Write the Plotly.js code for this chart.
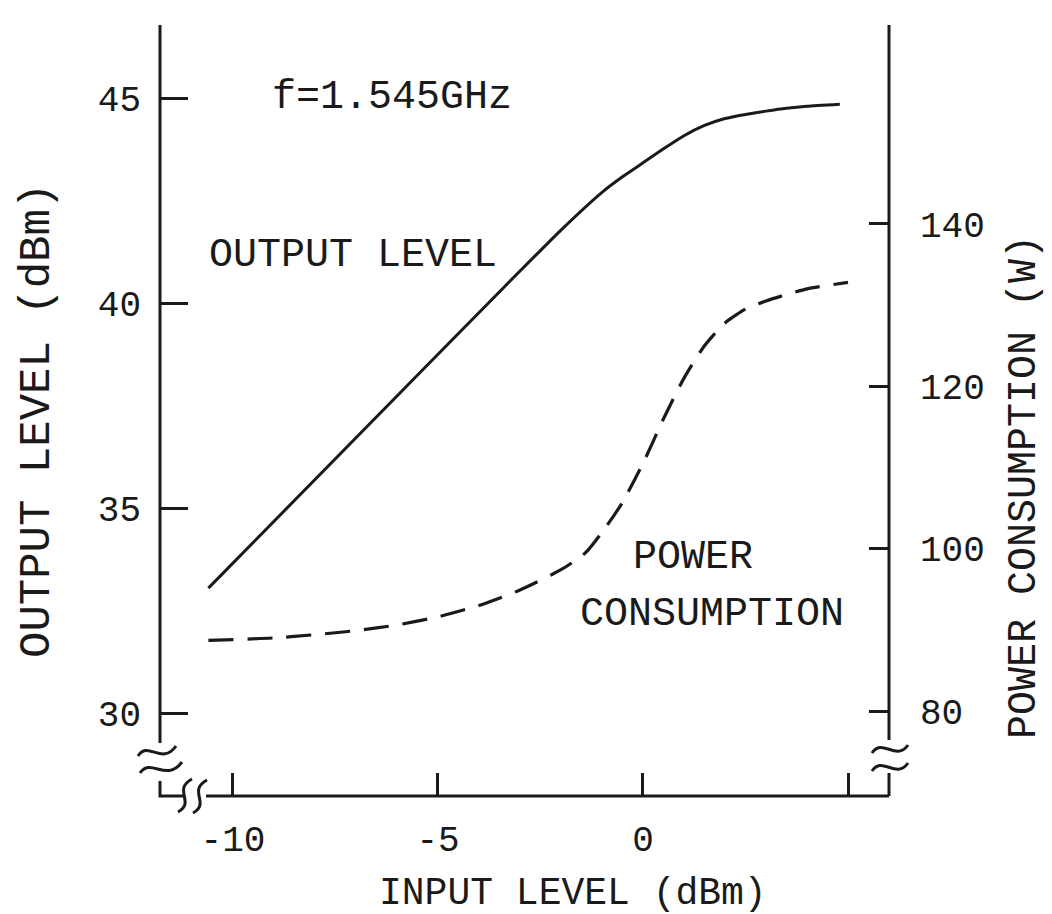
<!DOCTYPE html>
<html>
<head>
<meta charset="utf-8">
<script src="https://cdn.plot.ly/plotly-3.0.1.min.js"></script>
<style>html,body{margin:0;padding:0;background:#fff;}#chart{width:1052px;height:914px;}</style>
</head>
<body>
<div id="chart"></div>
<script>
// Data
var inputLevel = [-10.6, -5, -3, -2, -1, -0.5, 0, 0.5, 1, 1.5, 2, 2.5, 3, 3.5, 4, 4.8];
var outputLevel = [33.05, 38.75, 40.78, 41.78, 42.7, 43.08, 43.42, 43.76, 44.08, 44.33, 44.5, 44.6, 44.68, 44.75, 44.8, 44.85];

var inputLevelP = [-10.6, -9, -8, -7, -6, -5, -4, -3, -2, -1.4, -0.9, -0.5, 0, 0.5, 1, 1.5, 2, 2.5, 3, 3.5, 4, 5.0];
var powerConsumption = [88.7, 89.0, 89.4, 89.9, 90.6, 91.6, 93.0, 94.9, 97.4, 99.5, 102.7, 105.7, 110.5, 116, 121, 125, 127.8, 129.5, 130.5, 131.3, 132, 132.8];

var xTickVals = [-10, -5, 0, 5];
var xTickText = ['-10', '-5', '0', ''];
var yTickVals = [30, 35, 40, 45];
var y2TickVals = [80, 100, 120, 140];

var xTitle = 'INPUT LEVEL (dBm)';
var yTitle = 'OUTPUT LEVEL (dBm)';
var y2Title = 'POWER CONSUMPTION (W)';

var FONT = 'Liberation Mono, Courier New, monospace';
var INK = '#1a1a1a';

// plot area in pixels (for decorative axis-break marks)
var L = 160, R = 889, T = 25, B = 796;
function px(x) { return ((x - L) / (R - L)).toFixed(5); }
function py(y) { return ((B - y) / (B - T)).toFixed(5); }
function pathFrom(pts) {
  return pts.map(function (seg) {
    var coords = [];
    for (var i = 1; i < seg.length; i += 2) coords.push(px(seg[i]) + ',' + py(seg[i + 1]));
    return seg[0] + ' ' + coords.join(' ');
  }).join(' ');
}
function pshape(pts) {
  return { type: 'path', xref: 'paper', yref: 'paper', path: pathFrom(pts),
           line: { color: INK, width: 3 }, layer: 'above' };
}

var shapes = [
  // left axis (with break)
  pshape([['M', 160, 25], ['L', 160, 743]]),
  pshape([['M', 138, 756], ['C', 148, 740, 162, 766, 176, 746]]),
  pshape([['M', 140, 773], ['C', 151, 757, 166, 783, 182, 762]]),
  pshape([['M', 160, 781], ['L', 160, 796], ['L', 183, 796]]),
  // x axis break
  pshape([['M', 178, 812], ['C', 196, 802, 172, 790, 192, 779]]),
  pshape([['M', 193, 813], ['C', 211, 803, 187, 791, 207, 780]]),
  pshape([['M', 206, 796], ['L', 889, 796]]),
  // right axis (with break)
  pshape([['M', 889, 25], ['L', 889, 740]]),
  pshape([['M', 872, 753], ['C', 882, 737, 896, 762, 908, 745]]),
  pshape([['M', 872, 771], ['C', 882, 755, 896, 780, 908, 763]]),
  pshape([['M', 889, 773], ['L', 889, 796]])
];

var traces = [
  { x: inputLevel, y: outputLevel, type: 'scatter', mode: 'lines', name: 'OUTPUT LEVEL',
    line: { color: INK, width: 3, shape: 'spline', smoothing: 0.5 }, yaxis: 'y', showlegend: false },
  { x: inputLevelP, y: powerConsumption, type: 'scatter', mode: 'lines', name: 'POWER CONSUMPTION',
    line: { color: INK, width: 3.2, dash: '25px,14px', shape: 'spline', smoothing: 0.6 }, yaxis: 'y2', showlegend: false }
];

var tickFont = { family: FONT, size: 36, color: INK };

var layout = {
  width: 1052, height: 914,
  margin: { l: L, r: 1052 - R, t: T, b: 914 - B, pad: 0 },
  paper_bgcolor: '#ffffff', plot_bgcolor: '#ffffff',
  showlegend: false,
  xaxis: {
    range: [-11.78, 6.0], showgrid: false, zeroline: false, showline: false,
    tickmode: 'array', tickvals: xTickVals, ticktext: xTickText,
    ticks: 'inside', ticklen: 23, tickwidth: 3, tickcolor: INK,
    tickfont: tickFont, ticklabelstandoff: 18,
    automargin: false
  },
  yaxis: {
    range: [27.98, 46.78], showgrid: false, zeroline: false, showline: false,
    tickmode: 'array', tickvals: yTickVals,
    ticks: 'inside', ticklen: 28, tickwidth: 3, tickcolor: INK,
    tickfont: tickFont, ticklabelstandoff: 18,
    automargin: false
  },
  yaxis2: {
    range: [69.53, 164.5], overlaying: 'y', side: 'right', showgrid: false, zeroline: false, showline: false,
    tickmode: 'array', tickvals: y2TickVals,
    ticks: 'inside', ticklen: 20, tickwidth: 3, tickcolor: INK,
    tickfont: tickFont, ticklabelstandoff: 30,
    automargin: false
  },
  shapes: shapes,
  annotations: [
    // axis titles
    { x: (573 - L) / (R - L), y: (B - 893) / (B - T), xref: 'paper', yref: 'paper', text: xTitle,
      showarrow: false, font: { family: FONT, size: 38, color: INK }, xanchor: 'center', yanchor: 'middle' },
    { x: (37 - L) / (R - L), y: (B - 421) / (B - T), xref: 'paper', yref: 'paper', text: yTitle, textangle: -90,
      showarrow: false, font: { family: FONT, size: 44, color: INK }, xanchor: 'center', yanchor: 'middle' },
    { x: (1024 - L) / (R - L), y: (B - 487) / (B - T), xref: 'paper', yref: 'paper', text: y2Title, textangle: -90,
      showarrow: false, font: { family: FONT, size: 40, color: INK }, xanchor: 'center', yanchor: 'middle', borderpad: 0 },
    // in-plot labels
    { x: -6.12, y: 45.02, xref: 'x', yref: 'y', text: 'f=1.545GHz', showarrow: false,
      font: { family: FONT, size: 40, color: INK }, xanchor: 'center', yanchor: 'middle' },
    { x: -7.07, y: 41.17, xref: 'x', yref: 'y', text: 'OUTPUT LEVEL', showarrow: false,
      font: { family: FONT, size: 40, color: INK }, xanchor: 'center', yanchor: 'middle' },
    { x: 1.22, y: 33.8, xref: 'x', yref: 'y', text: 'POWER', showarrow: false,
      font: { family: FONT, size: 40, color: INK }, xanchor: 'center', yanchor: 'middle' },
    { x: 1.68, y: 32.41, xref: 'x', yref: 'y', text: 'CONSUMPTION', showarrow: false,
      font: { family: FONT, size: 40, color: INK }, xanchor: 'center', yanchor: 'middle' }
  ]
};

Plotly.newPlot('chart', traces, layout, { staticPlot: true, displayModeBar: false });
</script>
</body>
</html>
